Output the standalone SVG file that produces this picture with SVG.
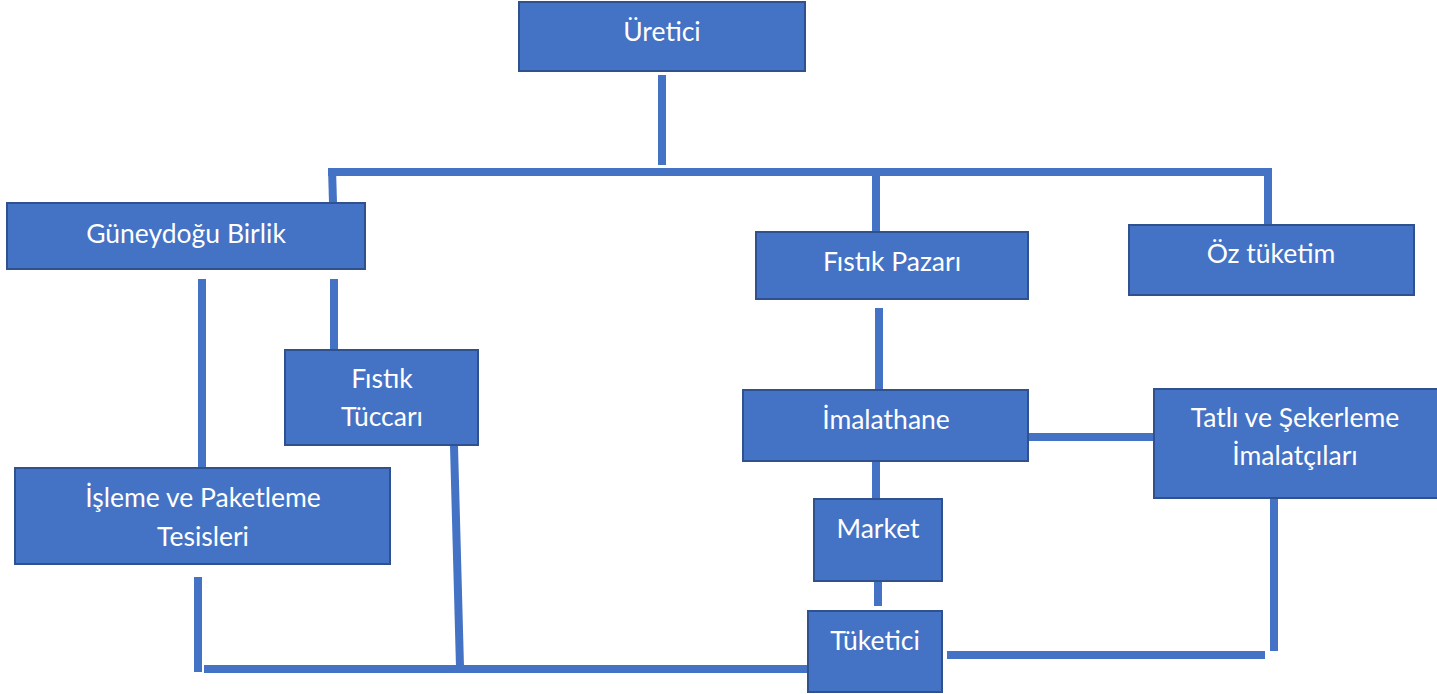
<svg xmlns="http://www.w3.org/2000/svg" width="1437" height="694" viewBox="0 0 1437 694">
<style>
.box{fill:#4472C4;stroke:#2F528F;stroke-width:2}
.lbl{font-family:Lato,"Open Sans","Liberation Sans",sans-serif;font-size:26.5px;fill:#ffffff;text-anchor:middle;dominant-baseline:central}
.c{stroke:#4472C4;stroke-width:8;fill:none}
</style>
<rect width="1437" height="694" fill="#ffffff"/>
<g id="connectors">
<line class="c" x1="662" y1="75" x2="662" y2="165"/>
<line class="c" x1="328" y1="172" x2="1272" y2="172"/>
<line class="c" x1="332" y1="168" x2="333" y2="203"/>
<line class="c" x1="876" y1="172" x2="876" y2="232"/>
<line class="c" x1="1268" y1="168" x2="1268" y2="225"/>
<line class="c" x1="202" y1="279" x2="202" y2="468"/>
<line class="c" x1="334" y1="279" x2="334" y2="350"/>
<line class="c" x1="454" y1="446" x2="460" y2="667"/>
<line class="c" x1="198" y1="577" x2="198" y2="672"/>
<line class="c" x1="204" y1="669" x2="808" y2="669"/>
<line class="c" x1="879" y1="308" x2="879" y2="390"/>
<line class="c" x1="1028" y1="437" x2="1154" y2="437"/>
<line class="c" x1="876" y1="461" x2="876" y2="499"/>
<line class="c" x1="878" y1="582" x2="878" y2="606"/>
<line class="c" x1="947" y1="655" x2="1265" y2="655"/>
<line class="c" x1="1274" y1="499" x2="1274" y2="651"/>
</g>
<g id="uretici"><rect class="box" x="519" y="2" width="286" height="69"/><text class="lbl" x="662" y="31">Üretici</text></g>
<g id="guneydogu"><rect class="box" x="7" y="203" width="358" height="66"/><text class="lbl" x="186" y="233">Güneydoğu Birlik</text></g>
<g id="fistik-pazari"><rect class="box" x="756" y="232" width="272" height="67"/><text class="lbl" x="892" y="261">Fıstık Pazarı</text></g>
<g id="oz-tuketim"><rect class="box" x="1129" y="225" width="285" height="70"/><text class="lbl" x="1271" y="253">Öz tüketim</text></g>
<g id="fistik-tuccari"><rect class="box" x="285" y="350" width="193" height="95"/><text class="lbl" x="382" y="378">Fıstık</text><text class="lbl" x="382" y="416">Tüccarı</text></g>
<g id="imalathane"><rect class="box" x="743" y="390" width="285" height="71"/><text class="lbl" x="886" y="419">İmalathane</text></g>
<g id="tatli"><rect class="box" x="1154" y="389" width="290" height="109"/><text class="lbl" x="1295" y="417">Tatlı ve Şekerleme</text><text class="lbl" x="1295" y="455">İmalatçıları</text></g>
<g id="isleme"><rect class="box" x="15" y="468" width="375" height="96"/><text class="lbl" x="203" y="497">İşleme ve Paketleme</text><text class="lbl" x="203" y="536">Tesisleri</text></g>
<g id="market"><rect class="box" x="814" y="499" width="128" height="82"/><text class="lbl" x="878" y="528">Market</text></g>
<g id="tuketici"><rect class="box" x="808" y="611" width="134" height="81"/><text class="lbl" x="875" y="640">Tüketici</text></g>
</svg>
